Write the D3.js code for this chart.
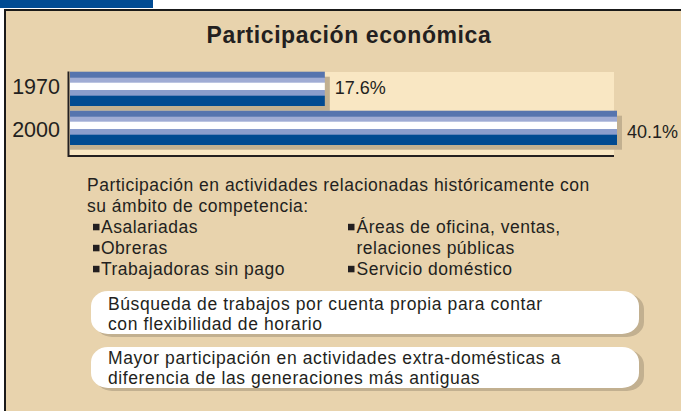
<!DOCTYPE html>
<meta charset="utf-8">
<title>Participación económica</title>
<style>
body { margin: 0; background: #fff; }
text { font-family: "Liberation Sans", Arial, sans-serif; fill: #231f20; }
.title { font-size: 23px; font-weight: bold; letter-spacing: 0.6px; }
.year { font-size: 21.5px; }
.val { font-size: 18px; }
.body { font-size: 17.5px; letter-spacing: 0.5px; }
.pill text { font-size: 17.5px; letter-spacing: 0.6px; }
</style>
<svg width="681" height="411"></svg>
<script src="https://d3js.org/d3.v7.min.js"></script>
<script>

var years = ["1970", "2000"];
var values = [17.6, 40.1];

var introLines = ["Participación en actividades relacionadas históricamente con",
  "su ámbito de competencia:"];
var leftItems = ["Asalariadas", "Obreras", "Trabajadoras sin pago"];
var rightItems = [["Áreas de oficina, ventas,", true], ["relaciones públicas", false], ["Servicio doméstico", true]];
var pillLines = [
  ["Búsqueda de trabajos por cuenta propia para contar", "con flexibilidad de horario"],
  ["Mayor participación en actividades extra-domésticas a", "diferencia de las generaciones más antiguas"]
];

// stripes of each bar, top to bottom (fraction of bar height)
var stripes = [
  {y0: 0, y1: 6/34, c: "#5674ae"},
  {y0: 6/34, y1: 11/34, c: "#a0acd4"},
  {y0: 11/34, y1: 18.3/34, c: "#ffffff"},
  {y0: 18.3/34, y1: 24/34, c: "#8b9dcc"},
  {y0: 24/34, y1: 1, c: "#004a91"}
];

var svg = d3.select("svg");

// page frame
svg.append("rect").attr("x", 0).attr("y", 0).attr("width", 153).attr("height", 8).attr("fill", "#004b93");
svg.append("rect").attr("x", 5).attr("y", 10).attr("width", 690).attr("height", 420)
  .attr("fill", "#e8d3ad").attr("stroke", "#1a1a1a").attr("stroke-width", 2);

svg.append("text").attr("class", "title")
  .attr("x", 349).attr("y", 42.5).attr("text-anchor", "middle")
  .text("Participación económica");

// bar chart
var x = d3.scaleLinear().domain([-2.1, 40.1]).range([69, 617]);
var y = d3.scaleBand().domain(years).range([71.7, 144.7]).paddingInner(5/39).paddingOuter(0);

svg.append("rect").attr("x", 69).attr("y", 72).attr("width", 545).attr("height", 84).attr("fill", "#f9e7c3");

var bar = svg.selectAll(".bar")
  .data(years.map(function(d, i) { return {year: d, value: values[i]}; }))
  .enter().append("g").attr("class", "bar");

bar.append("rect")
  .attr("x", x(-2.1) + 1)
  .attr("y", function(d) { return y(d.year) + 5; })
  .attr("width", function(d) { return x(d.value) - x(-2.1) + 4; })
  .attr("height", y.bandwidth())
  .attr("fill", "#c2b090");

bar.each(function(d) {
  var g = d3.select(this);
  stripes.forEach(function(s) {
    g.append("rect")
      .attr("x", x(-2.1) + 1)
      .attr("y", y(d.year) + s.y0 * y.bandwidth())
      .attr("width", x(d.value) - x(-2.1) - 1)
      .attr("height", (s.y1 - s.y0) * y.bandwidth() + 0.3)
      .attr("fill", s.c);
  });
});

bar.append("text").attr("class", "val")
  .attr("x", function(d) { return x(d.value) + 10; })
  .attr("y", function(d) { return y(d.year) + y.bandwidth() / 2 + 5.5 + (d.year == "2000" ? 4.5 : 0); })
  .text(function(d) { return d.value.toFixed(1) + "%"; });

bar.append("text").attr("class", "year")
  .attr("x", 60).attr("text-anchor", "end")
  .attr("y", function(d) { return y(d.year) + y.bandwidth() / 2 + 5.5 + (d.year == "2000" ? 4 : 0); })
  .text(function(d) { return d.year; });

// axes lines
svg.append("line").attr("x1", 68.5).attr("x2", 68.5).attr("y1", 71.5).attr("y2", 157)
  .attr("stroke", "#231f20").attr("stroke-width", 2);
svg.append("line").attr("x1", 68).attr("x2", 614).attr("y1", 156).attr("y2", 156)
  .attr("stroke", "#231f20").attr("stroke-width", 2);

// explanatory text
svg.selectAll(".intro").data(introLines).enter().append("text")
  .attr("class", "body").attr("x", 87)
  .attr("y", function(d, i) { return 191 + i * 20.5; })
  .text(function(d) { return d; });

function bullets(items, bx, tx) {
  items.forEach(function(d, i) {
    var label = Array.isArray(d) ? d[0] : d;
    var mark = Array.isArray(d) ? d[1] : true;
    var by = 232.5 + i * 21;
    if (mark) svg.append("rect").attr("x", bx).attr("y", by - 8.7).attr("width", 6.5).attr("height", 6.5).attr("fill", "#231f20");
    svg.append("text").attr("class", "body").attr("x", tx).attr("y", by).text(label);
  });
}
bullets(leftItems, 93, 101);
bullets(rightItems, 348, 356.5);

// rounded boxes
var pillTop = [291, 347];
var pillBottom = [334, 388];
pillLines.forEach(function(lines, i) {
  var g = svg.append("g").attr("class", "pill");
  g.append("rect").attr("x", 95).attr("y", pillTop[i] + 3)
    .attr("width", 549).attr("height", pillBottom[i] - pillTop[i])
    .attr("rx", 17).attr("ry", 15).attr("fill", "#c2b090");
  g.append("rect").attr("x", 91).attr("y", pillTop[i])
    .attr("width", 548).attr("height", pillBottom[i] - pillTop[i])
    .attr("rx", 17).attr("ry", 15).attr("fill", "#fff");
  lines.forEach(function(t, j) {
    g.append("text").attr("x", 108)
      .attr("y", pillTop[i] + 17.5 + (i == 0 ? 1 : -1) + j * 20.8)
      .text(t);
  });
});

</script>
